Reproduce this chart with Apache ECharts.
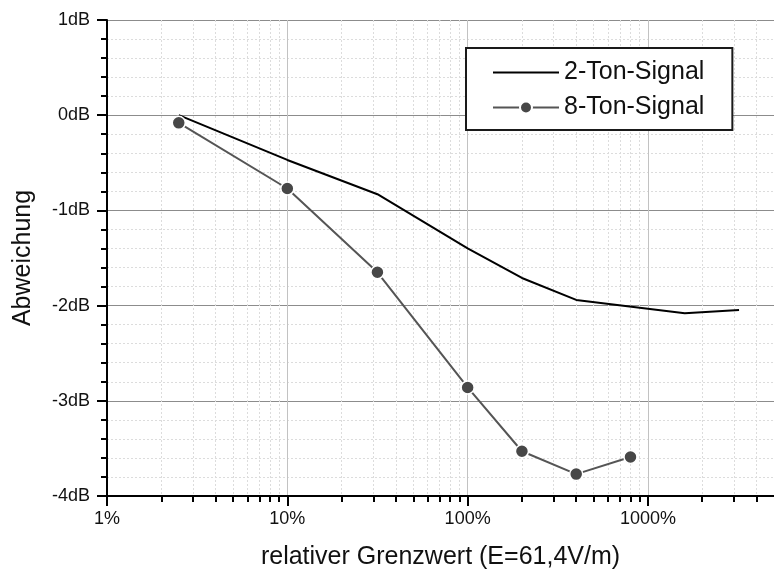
<!DOCTYPE html>
<html>
<head>
<meta charset="utf-8">
<script src="https://cdn.jsdelivr.net/npm/echarts@6/dist/echarts.min.js"></script>
<style>
  html, body { margin: 0; padding: 0; background: #fff; }
  #chart { width: 774px; height: 575px; }
</style>
</head>
<body>
<div id="chart"></div>
<script>
// Deviation of the measured field strength versus relative limit value
const FONT = '"Liberation Sans", Arial, Helvetica, sans-serif';

const seriesNames = ['2-Ton-Signal', '8-Ton-Signal'];

// 2-tone signal (percent of limit, deviation in dB)
const xPercent2Ton = [2.5, 10, 31.6, 100, 200, 400, 1600, 3200];
const dB2Ton       = [0, -0.47, -0.83, -1.40, -1.71, -1.94, -2.08, -2.045];

// 8-tone signal
const xPercent8Ton = [2.5, 10, 31.6, 100, 200, 400, 800];
const dB8Ton       = [-0.08, -0.77, -1.65, -2.86, -3.53, -3.77, -3.59];

// intermediate log positions for minor ticks and dotted grid
const xMinorTicks = [2, 3, 4, 5, 6, 7, 8, 9,
                     20, 30, 40, 50, 60, 70, 80, 90,
                     200, 300, 400, 500, 600, 700, 800, 900,
                     2000, 3000, 4000];

const xAxisName = 'relativer Grenzwert (E=61,4V/m)';
const yAxisName = 'Abweichung';

const pairs = (xs, ys) => xs.map((x, i) => [x, ys[i]]);

const chart = echarts.init(document.getElementById('chart'), null, { renderer: 'canvas' });

chart.setOption({
  animation: false,
  backgroundColor: '#fff',
  textStyle: { fontFamily: FONT },
  grid: { left: 107, top: 20, right: -5, bottom: 79, containLabel: false },
  legend: {
    orient: 'vertical',
    left: 466, top: 48,
    padding: [12, 28, 10, 26],
    itemGap: 10,
    itemWidth: 66, itemHeight: 15,
    backgroundColor: '#fff',
    borderColor: '#1a1a1a', borderWidth: 2,
    textStyle: { fontFamily: FONT, fontSize: 25, color: '#111', lineHeight: 25 },
    data: [
      { name: seriesNames[0], itemStyle: { opacity: 0 } },
      { name: seriesNames[1] }
    ]
  },
  xAxis: [
    {
      type: 'log', logBase: 10, min: 1, max: 5000,
      position: 'bottom',
      name: xAxisName, nameLocation: 'middle', nameGap: 49,
      nameTextStyle: { fontFamily: FONT, fontSize: 25, color: '#111' },
      axisLine: { show: true, onZero: false, lineStyle: { color: '#000', width: 2 } },
      axisTick: { show: true, inside: false, length: 10, lineStyle: { color: '#000', width: 2 } },
      axisLabel: {
        show: true, margin: 14, showMaxLabel: false,
        fontFamily: FONT, fontSize: 18, color: '#111',
        formatter: v => v + '%'
      },
      splitLine: { show: true, lineStyle: { color: '#c2c2c2', width: 1 } }
    },
    {
      type: 'log', logBase: 10, min: 1, max: 5000,
      position: 'bottom', offset: 0,
      axisLine: { show: false, onZero: false },
      axisTick: { show: true, inside: false, length: 6, customValues: xMinorTicks,
                  lineStyle: { color: '#000', width: 2 } },
      axisLabel: { show: false },
      splitLine: { show: true, lineStyle: { color: '#dcdcdc', width: 1, type: [2, 2] } }
    }
  ],
  yAxis: {
    type: 'value', min: -4, max: 1, interval: 1,
    name: yAxisName, nameLocation: 'middle', nameGap: 71,
    nameTextStyle: { fontFamily: FONT, fontSize: 25, color: '#111' },
    axisLine: { show: true, onZero: false, lineStyle: { color: '#000', width: 2 } },
    axisTick: { show: true, inside: false, length: 10, lineStyle: { color: '#000', width: 2 } },
    minorTick: { show: true, splitNumber: 5, length: 6, lineStyle: { color: '#000', width: 2 } },
    axisLabel: {
      margin: 17, fontFamily: FONT, fontSize: 18, color: '#111',
      formatter: v => v + 'dB'
    },
    splitLine: { show: true, lineStyle: { color: '#8c8c8c', width: 1 } },
    minorSplitLine: { show: true, lineStyle: { color: '#dcdcdc', width: 1, type: [2, 2] } }
  },
  series: [
    {
      name: seriesNames[0], type: 'line',
      data: pairs(xPercent2Ton, dB2Ton),
      symbol: 'none', showSymbol: false,
      lineStyle: { color: '#000', width: 2 },
      itemStyle: { color: '#000' },
      z: 3
    },
    {
      name: seriesNames[1], type: 'line',
      data: pairs(xPercent8Ton, dB8Ton),
      symbol: 'circle', symbolSize: 13, showSymbol: true,
      lineStyle: { color: '#555', width: 2 },
      itemStyle: { color: '#474747', borderColor: '#fff', borderWidth: 1.5 },
      z: 4
    }
  ]
});
</script>
</body>
</html>
